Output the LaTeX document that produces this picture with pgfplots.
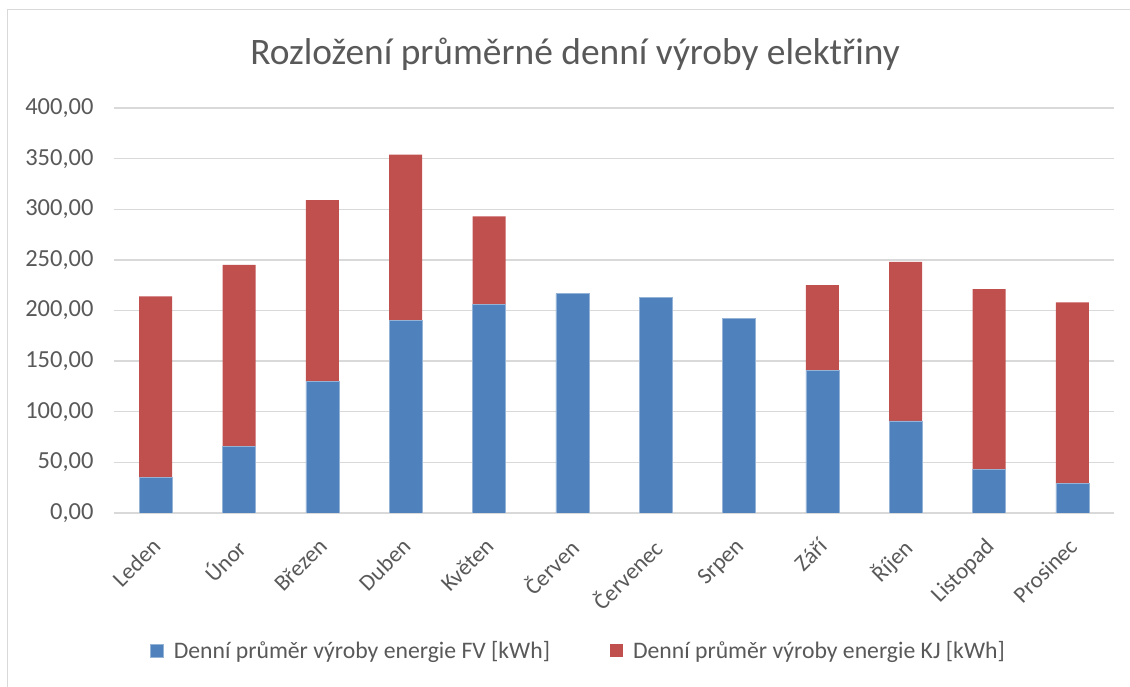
\documentclass[border=0pt]{standalone}
\usepackage{pgfplots}
\pgfplotsset{compat=1.18}
\usepackage{pgfplotstable}
\usepackage{fontspec}
\setmainfont{Carlito}
\definecolor{fvblue}{HTML}{4F81BD}
\definecolor{kjred}{HTML}{C0504D}
\definecolor{txtgray}{HTML}{595959}
\definecolor{gridgray}{HTML}{D9D9D9}
\pgfplotstableread{
m fv kj
0 35 179
1 66 179
2 130 179
3 190 164
4 206 87
5 217 0
6 213 0
7 192 0
8 141 84
9 91 157
10 43 178
11 29 179
}\data
\begin{document}
\begin{tikzpicture}[x=1pt,y=1pt]
\useasboundingbox (0,0) rectangle (1130,687);
\draw[gridgray, line width=1.2pt] (7.5,0) -- (7.5,677.5) -- (1130,677.5);
\node[font=\fontsize{37.4}{42}\selectfont, text=txtgray] at (575,633) {Rozložení průměrné denní výroby elektřiny};
\begin{axis}[
  at={(114pt,174pt)}, anchor=south west,
  scale only axis, width=1000pt, height=405pt,
  ybar stacked, bar width=33pt,
  xmin=-0.5, xmax=11.5, ymin=0, ymax=400,
  ytick={0,50,...,400},
  xtick=data,
  xticklabels={Leden,Únor,Březen,Duben,Květen,Červen,Červenec,Srpen,Září,Říjen,Listopad,Prosinec},
  axis line style={draw=none},
  major tick length=0pt,
  ymajorgrids, grid style={gridgray, line width=1.3pt},
  /pgf/number format/assume math mode=true,
  /pgf/number format/fixed, /pgf/number format/fixed zerofill, /pgf/number format/precision=2, /pgf/number format/use comma, /pgf/number format/1000 sep={},
  ticklabel style={text=txtgray},
  yticklabel style={font=\fontsize{24.5}{28}\selectfont, xshift=-17pt},
  xticklabel style={font=\fontsize{23}{27}\selectfont, xshift=-5pt, yshift=-19pt, rotate=45, anchor=north east},
  legend style={draw=none, at={(0.4645,-0.34)}, anchor=center, font=\fontsize{23.7}{27}\selectfont, text=txtgray, legend columns=2, /tikz/every odd column/.append style={column sep=8pt}, /tikz/every even column/.append style={column sep=58pt}},
  legend image code/.code={\fill[#1] (0pt,-6.5pt) rectangle (13pt,6.5pt);},
]
\addplot[fill=fvblue, draw=fvblue!60!white, line width=0.6pt] table[x=m,y=fv]{\data};
\addplot[fill=kjred, draw=none] table[x=m,y=kj]{\data};
\legend{Denní průměr výroby energie FV [kWh], Denní průměr výroby energie KJ [kWh]}
\end{axis}
\end{tikzpicture}
\end{document}
